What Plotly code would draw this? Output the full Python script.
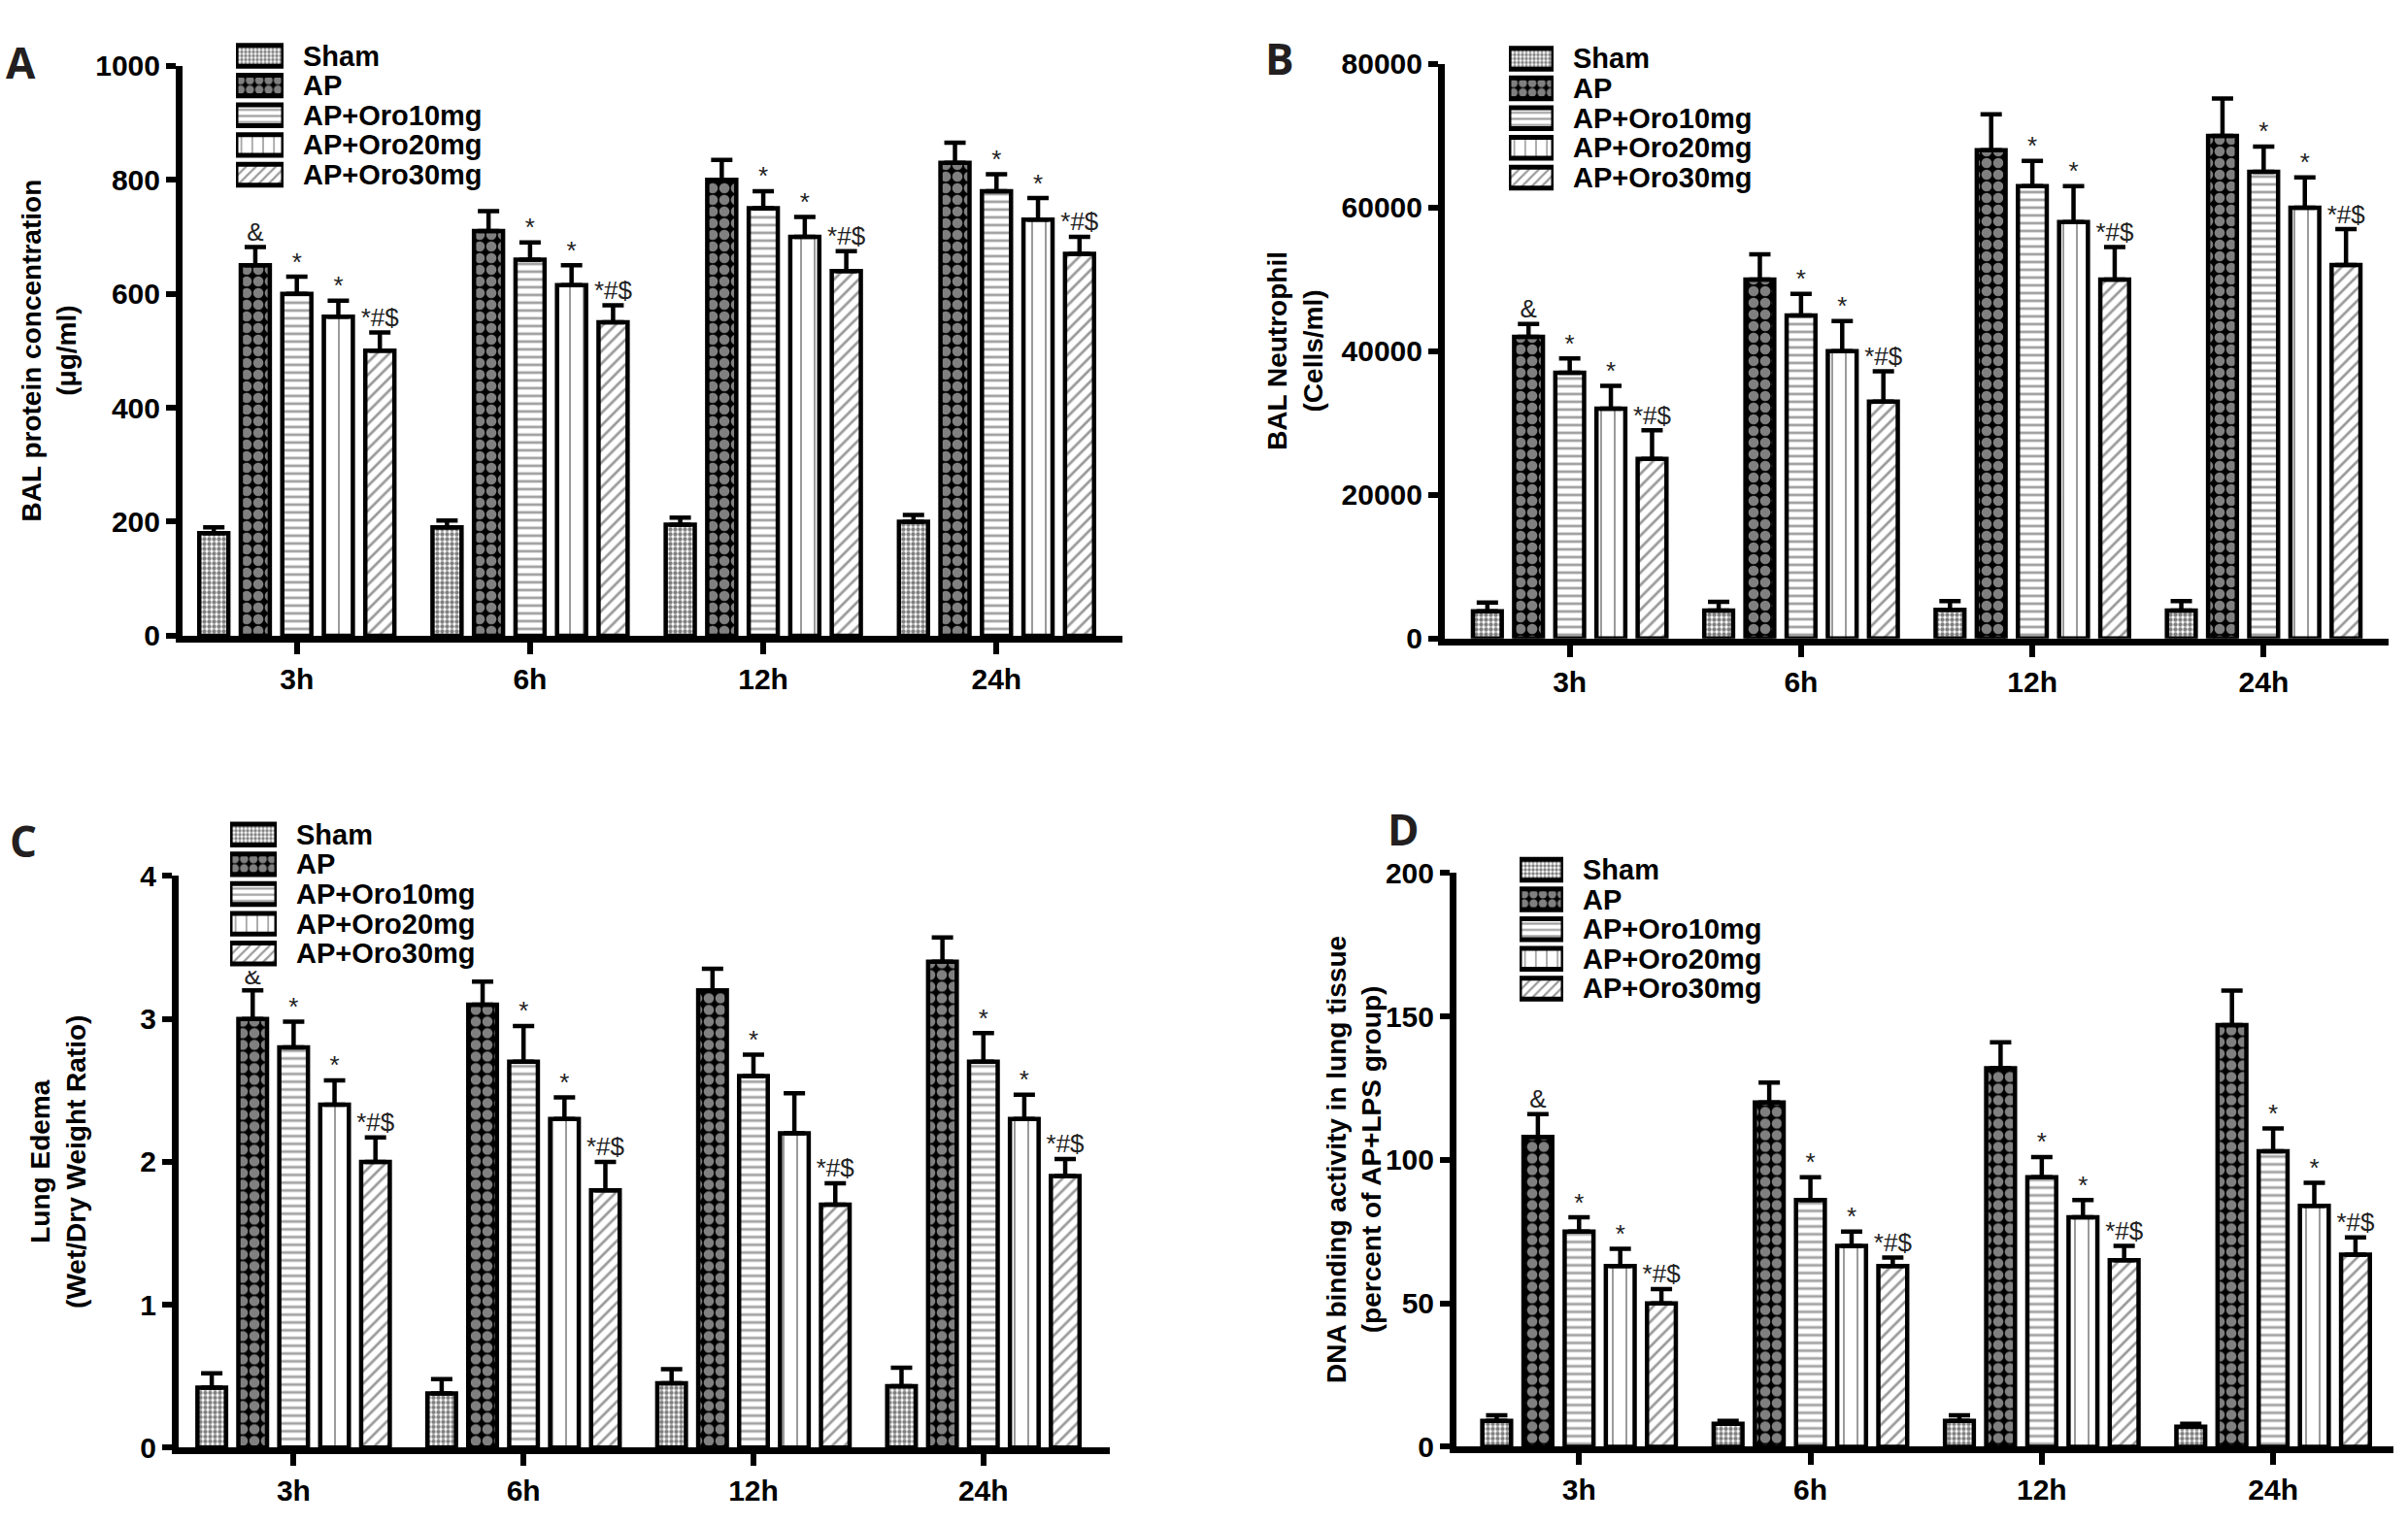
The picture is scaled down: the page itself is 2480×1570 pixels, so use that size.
import plotly.graph_objects as go

W, H = 2480, 1570

# ---------------- data ----------------
times = ["3h", "6h", "12h", "24h"]
groups = ["Sham", "AP", "AP+Oro10mg", "AP+Oro20mg", "AP+Oro30mg"]

# Panel A: BAL protein concentration (ug/ml)
A_sham = [180, 190, 195, 200]
A_ap = [650, 710, 800, 830]
A_o10 = [600, 660, 750, 780]
A_o20 = [560, 615, 700, 730]
A_o30 = [500, 550, 640, 670]
A_sham_err = [10, 12, 12, 12]
A_ap_err = [32, 35, 35, 35]
A_o10_err = [30, 30, 30, 30]
A_o20_err = [28, 35, 35, 38]
A_o30_err = [32, 30, 35, 30]
A_sig = [["", "", "", ""], ["&", "", "", ""], ["*", "*", "*", "*"],
         ["*", "*", "*", "*"], ["*#$", "*#$", "*#$", "*#$"]]

# Panel B: BAL Neutrophil (Cells/ml)
B_sham = [3800, 3900, 4000, 3900]
B_ap = [42000, 50000, 68000, 70000]
B_o10 = [37000, 45000, 63000, 65000]
B_o20 = [32000, 40000, 58000, 60000]
B_o30 = [25000, 33000, 50000, 52000]
B_sham_err = [1200, 1200, 1200, 1300]
B_ap_err = [1800, 3500, 5000, 5200]
B_o10_err = [2000, 3000, 3500, 3500]
B_o20_err = [3200, 4200, 5000, 4200]
B_o30_err = [4000, 4200, 4500, 5000]
B_sig = [["", "", "", ""], ["&", "", "", ""], ["*", "*", "*", "*"],
         ["*", "*", "*", "*"], ["*#$", "*#$", "*#$", "*#$"]]

# Panel C: Lung Edema (Wet/Dry Weight Ratio)
C_sham = [0.42, 0.38, 0.45, 0.43]
C_ap = [3.0, 3.1, 3.2, 3.4]
C_o10 = [2.8, 2.7, 2.6, 2.7]
C_o20 = [2.4, 2.3, 2.2, 2.3]
C_o30 = [2.0, 1.8, 1.7, 1.9]
C_sham_err = [0.10, 0.10, 0.10, 0.13]
C_ap_err = [0.20, 0.16, 0.15, 0.17]
C_o10_err = [0.18, 0.25, 0.15, 0.20]
C_o20_err = [0.17, 0.15, 0.28, 0.17]
C_o30_err = [0.17, 0.20, 0.15, 0.12]
C_sig = [["", "", "", ""], ["&", "", "", ""], ["*", "*", "*", "*"],
         ["*", "*", "", "*"], ["*#$", "*#$", "*#$", "*#$"]]

# Panel D: DNA binding activity (percent of AP+LPS group)
D_sham = [9, 8, 9, 7]
D_ap = [108, 120, 132, 147]
D_o10 = [75, 86, 94, 103]
D_o20 = [63, 70, 80, 84]
D_o30 = [50, 63, 65, 67]
D_sham_err = [2, 1, 2, 1]
D_ap_err = [8, 7, 9, 12]
D_o10_err = [5, 8, 7, 8]
D_o20_err = [6, 5, 6, 8]
D_o30_err = [5, 3, 5, 6]
D_sig = [["", "", "", ""], ["&", "", "", ""], ["*", "*", "*", "*"],
         ["*", "*", "*", "*"], ["*#$", "*#$", "*#$", "*#$"]]

A_ticks = [0, 200, 400, 600, 800, 1000]
B_ticks = [0, 20000, 40000, 60000, 80000]
C_ticks = [0, 1, 2, 3, 4]
D_ticks = [0, 50, 100, 150, 200]

A_title = "BAL protein concentration<br>(\u03bcg/ml)"
B_title = "BAL Neutrophil<br>(Cells/ml)"
C_title = "Lung Edema<br>(Wet/Dry Weight Ratio)"
D_title = "DNA binding activity in lung tissue<br>(percent of AP+LPS group)"

panels_data = [
    dict(letter="A", vals=[A_sham, A_ap, A_o10, A_o20, A_o30],
         errs=[A_sham_err, A_ap_err, A_o10_err, A_o20_err, A_o30_err],
         sig=A_sig, ticks=A_ticks, title=A_title),
    dict(letter="B", vals=[B_sham, B_ap, B_o10, B_o20, B_o30],
         errs=[B_sham_err, B_ap_err, B_o10_err, B_o20_err, B_o30_err],
         sig=B_sig, ticks=B_ticks, title=B_title),
    dict(letter="C", vals=[C_sham, C_ap, C_o10, C_o20, C_o30],
         errs=[C_sham_err, C_ap_err, C_o10_err, C_o20_err, C_o30_err],
         sig=C_sig, ticks=C_ticks, title=C_title),
    dict(letter="D", vals=[D_sham, D_ap, D_o10, D_o20, D_o30],
         errs=[D_sham_err, D_ap_err, D_o10_err, D_o20_err, D_o30_err],
         sig=D_sig, ticks=D_ticks, title=D_title),
]

# ---------------- layout (pixel geometry) ----------------
geom = [
    dict(x0=188, x1=1156, yt=52, yb=652, xr=[-0.49, 3.54], tx=50, lx=21, ly=48,
         gx0=243, gx1=292, gy0=23, gy1=185),
    dict(x0=1488, x1=2460, yt=50, yb=655, xr=[-0.54, 3.54], tx=1334, lx=1318, ly=44,
         gx0=1554, gx1=1600, gy0=26, gy1=188),
    dict(x0=184, x1=1143, yt=905, yb=1507, xr=[-0.50, 3.55], tx=60, lx=24, ly=868,
         gx0=237, gx1=285, gy0=843, gy1=1005),
    dict(x0=1500, x1=2465, yt=902, yb=1506, xr=[-0.53, 3.52], tx=1395, lx=1446, ly=856,
         gx0=1565, gx1=1610, gy0=880, gy1=1042),
]

patterns = [
    dict(shape=".", size=5, solidity=0.6, fgcolor="#000000", bgcolor="#ffffff"),
    dict(shape=".", size=12, solidity=0.62, fgcolor="#ffffff", bgcolor="#000000"),
    dict(shape="-", size=8, solidity=0.35, fgcolor="#444444", bgcolor="#ffffff"),
    dict(shape="|", size=14, solidity=0.14, fgcolor="#333333", bgcolor="#ffffff"),
    dict(shape="/", size=9, solidity=0.3, fgcolor="#333333", bgcolor="#ffffff"),
]

FONT = "Liberation Sans"
fig = go.Figure()
layout = dict(width=W, height=H, margin=dict(l=0, r=0, t=0, b=0),
              paper_bgcolor="white", plot_bgcolor="white",
              barmode="group", bargap=0.11, bargroupgap=0.3,
              scattermode="group", showlegend=False,
              font=dict(family=FONT, color="black"))
annotations = []

for p, (pd_, g) in enumerate(zip(panels_data, geom)):
    n = p + 1
    xa = "x" if n == 1 else f"x{n}"
    ya = "y" if n == 1 else f"y{n}"
    ymax = pd_["ticks"][-1]
    for k in range(5):
        fig.add_trace(go.Bar(
            x=times, y=pd_["vals"][k], xaxis=xa, yaxis=ya, name=groups[k],
            offsetgroup=str(k),
            marker=dict(color="white", line=dict(color="black", width=4.5),
                        pattern=patterns[k]),
            error_y=dict(type="data", array=pd_["errs"][k],
                         arrayminus=[0] * 4, color="black", thickness=4.5, width=11),
            hoverinfo="skip"))
    for k in range(5):
        tops = [v + e for v, e in zip(pd_["vals"][k], pd_["errs"][k])]
        fig.add_trace(go.Scatter(
            x=times, y=tops, xaxis=xa, yaxis=ya, mode="text",
            offsetgroup=str(k), text=pd_["sig"][k], textposition="top center",
            textfont=dict(size=26, family=FONT, color="#222222"),
            cliponaxis=False, hoverinfo="skip"))

    layout["xaxis" if n == 1 else f"xaxis{n}"] = dict(
        domain=[g["x0"] / W, g["x1"] / W], anchor=ya, type="category",
        range=g["xr"], showline=True, linecolor="black", linewidth=7,
        ticks="outside", ticklen=12, tickwidth=6, tickcolor="black",
        tickfont=dict(size=30, family=FONT, weight="bold"),
        showgrid=False, zeroline=False, fixedrange=True)
    layout["yaxis" if n == 1 else f"yaxis{n}"] = dict(
        domain=[1 - g["yb"] / H, 1 - g["yt"] / H], anchor=xa,
        range=[0, ymax], tickvals=pd_["ticks"], tickformat="d",
        showline=True, linecolor="black", linewidth=7,
        ticks="outside", ticklen=10, tickwidth=6, tickcolor="black",
        tickfont=dict(size=30, family=FONT, weight="bold"),
        showgrid=False, zeroline=False, fixedrange=True)

    annotations.append(dict(
        text=pd_["title"], textangle=-90, xref="paper", yref="paper",
        x=g["tx"] / W, y=1 - (g["yt"] + g["yb"]) / 2 / H, xanchor="center",
        yanchor="middle", showarrow=False,
        font=dict(size=28, family=FONT, weight="bold")))
    annotations.append(dict(
        text=pd_["letter"], xref="paper", yref="paper", x=g["lx"] / W,
        y=1 - g["ly"] / H, xanchor="center", yanchor="middle", showarrow=False,
        font=dict(size=44, family="Open Sans", weight="bold", color="#231f20")))

    # legend drawn as a small inset bar chart with text labels
    m = n + 4
    lxa, lya = f"x{m}", f"y{m}"
    fig.add_trace(go.Bar(
        y=groups, x=[1] * 5, orientation="h", xaxis=lxa, yaxis=lya,
        width=[0.7] * 5,
        marker=dict(color="white", line=dict(color="black", width=5),
                    pattern=dict(shape=[q["shape"] for q in patterns],
                                 size=[q["size"] * 0.8 for q in patterns],
                                 solidity=[q["solidity"] for q in patterns],
                                 fgcolor=[q["fgcolor"] for q in patterns],
                                 bgcolor=[q["bgcolor"] for q in patterns])),
        hoverinfo="skip"))
    for name in groups:
        annotations.append(dict(
            text=name, xref=lxa, yref=lya, x=1, y=name, xanchor="left",
            yanchor="middle", xshift=18, showarrow=False,
            font=dict(size=29, family=FONT, weight="bold", color="black")))
    layout[f"xaxis{m}"] = dict(domain=[g["gx0"] / W, g["gx1"] / W], anchor=lya,
                               range=[0, 1], visible=False, fixedrange=True)
    layout[f"yaxis{m}"] = dict(domain=[1 - g["gy1"] / H, 1 - g["gy0"] / H],
                               anchor=lxa, type="category",
                               autorange="reversed", visible=False, fixedrange=True)

layout["annotations"] = annotations
fig.update_layout(**layout)
fig.write_html("out.html")
